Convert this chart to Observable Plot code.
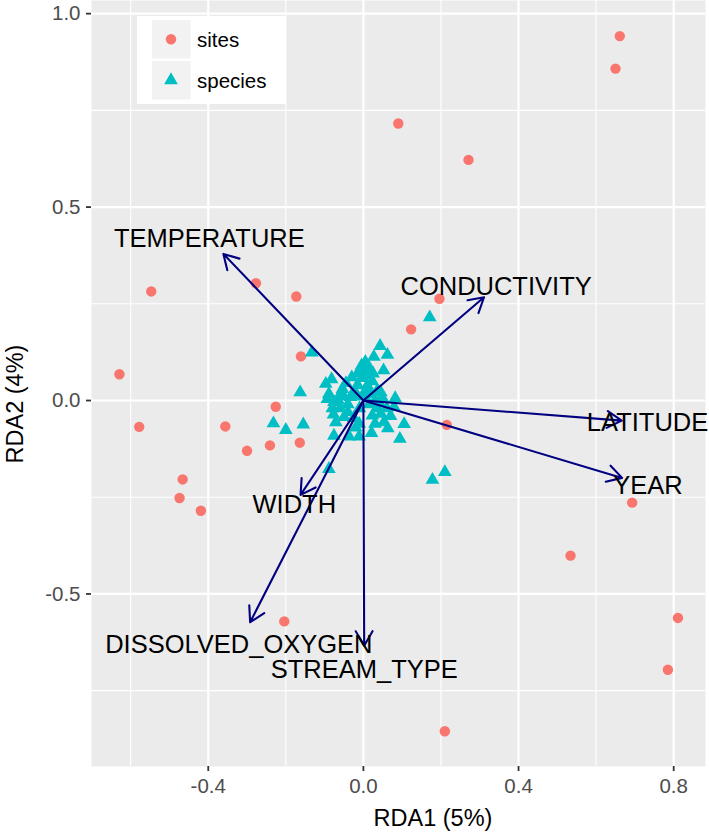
<!DOCTYPE html>
<html>
<head>
<meta charset="utf-8">
<script src="https://cdn.jsdelivr.net/npm/d3@7"></script>
<script src="https://cdn.jsdelivr.net/npm/@observablehq/plot@0.6"></script>
<style>
  html, body { margin: 0; padding: 0; background: white; }
  #chart { position: relative; width: 709px; height: 833px; }
</style>
</head>
<body>
<div id="chart"></div>
<script>
// ---- Data ----
const siteX = [0.661, 0.650, 0.090, 0.271, 0.196, 0.123, -0.547, -0.277, -0.173, -0.161, -0.629, -0.226, -0.578, -0.356, -0.300, -0.241, -0.164, -0.466, -0.474, -0.419, -0.204, 0.215, 0.693, 0.534, 0.811, 0.785, 0.210];
const siteY = [0.942, 0.858, 0.716, 0.622, 0.263, 0.184, 0.282, 0.303, 0.269, 0.114, 0.068, -0.016, -0.068, -0.067, -0.130, -0.116, -0.109, -0.204, -0.252, -0.285, -0.571, -0.063, -0.264, -0.401, -0.562, -0.696, -0.855];

const speciesX = [0.171, -0.133, 0.043, 0.027, 0.062, 0.052, -0.002, 0.023, -0.082, -0.097, -0.163, -0.089, -0.054, -0.028, 0.036, 0.010, 0.082, -0.093, -0.076, -0.059, -0.033, 0.019, 0.045, -0.232, -0.200, -0.155, -0.077, -0.071, -0.050, -0.076, -0.037, -0.011, -0.011, 0.021, 0.023, 0.045, 0.063, 0.053, 0.105, 0.094, -0.089, 0.178, 0.210, 0.079, 0.000, 0.010, -0.015, -0.020, 0.000, 0.030, -0.040, -0.010, 0.015, 0.040, -0.060, 0.030, -0.025, 0.060, -0.005, 0.015, -0.045, -0.030, -0.065, 0.005, 0.025, 0.050, -0.015, 0.005, -0.040, 0.035, -0.080, -0.050, 0.070, -0.020];
const speciesY = [0.215, 0.124, 0.141, 0.113, 0.118, 0.078, 0.058, 0.050, 0.055, 0.043, 0.021, 0.017, 0.030, 0.013, 0.026, 0.039, 0.006, 0.004, -0.004, 0.017, 0.009, 0.017, 0.021, -0.059, -0.076, -0.062, -0.036, -0.056, -0.043, -0.091, -0.093, -0.093, -0.060, -0.084, -0.039, -0.034, -0.072, -0.056, -0.061, -0.099, -0.177, -0.205, -0.185, -0.017, 0.075, 0.065, 0.040, 0.020, 0.010, 0.000, -0.010, -0.020, -0.010, -0.005, -0.020, -0.060, -0.045, -0.020, 0.090, 0.085, 0.045, 0.060, 0.000, 0.100, 0.070, 0.005, 0.070, 0.025, -0.030, -0.020, -0.020, 0.010, -0.040, -0.070];

const varNames = ["TEMPERATURE", "CONDUCTIVITY", "LATITUDE", "YEAR", "STREAM_TYPE", "DISSOLVED_OXYGEN", "WIDTH"];
const varX = [-0.361, 0.311, 0.666, 0.667, 0.002, -0.292, -0.162];
const varY = [0.379, 0.267, -0.052, -0.200, -0.634, -0.573, -0.244];

const xTicks = [-0.4, 0.0, 0.4, 0.8];
const yTicks = [-0.5, 0.0, 0.5, 1.0];
const xMinor = [-0.6, -0.2, 0.2, 0.6];
const yMinor = [-0.75, -0.25, 0.25, 0.75];
const legendLabels = ["sites", "species"];
const xTitle = "RDA1 (5%)";
const yTitle = "RDA2 (4%)";

// ---- tables built from arrays ----
const sites = siteX.map((x, i) => ({x, y: siteY[i]}));
const species = speciesX.map((x, i) => ({x, y: speciesY[i]}));
const vars = varNames.map((name, i) => ({name, x: varX[i], y: varY[i]}));

const FONT = "Liberation Sans, Arial, Helvetica, sans-serif";
const SITE_COL = "#F8766D", SPEC_COL = "#00BFC4";
const SITE_R = 5.2, SPEC_R = 5.1;

const plot = Plot.plot({
  width: 709,
  height: 833,
  marginLeft: 91,
  marginRight: 4,
  marginTop: 0,
  marginBottom: 67,
  style: {fontFamily: FONT, background: "white", overflow: "visible"},
  x: {domain: [-0.701, 0.882], label: null},
  y: {domain: [-0.946, 1.034], label: null},
  marks: [
    Plot.frame({fill: "#EBEBEB", stroke: "none"}),
    Plot.gridX(xMinor, {stroke: "white", strokeOpacity: 1, strokeWidth: 1.1}),
    Plot.gridY(yMinor, {stroke: "white", strokeOpacity: 1, strokeWidth: 1.1}),
    Plot.gridX(xTicks, {stroke: "white", strokeOpacity: 1, strokeWidth: 2.2}),
    Plot.gridY(yTicks, {stroke: "white", strokeOpacity: 1, strokeWidth: 2.2}),
    Plot.axisX(xTicks, {tickFormat: d => d.toFixed(1), fontSize: 20.5, tickSize: 5, tickPadding: 7, stroke: "#333333", strokeWidth: 1.8, fill: "#4D4D4D", label: null}),
    Plot.axisY(yTicks, {tickFormat: d => d.toFixed(1), fontSize: 20.5, tickSize: 5, tickPadding: 6, stroke: "#333333", strokeWidth: 1.8, fill: "#4D4D4D", label: null}),
    Plot.dot(sites, {x: "x", y: "y", r: SITE_R, fill: SITE_COL, stroke: "none"}),
    Plot.dot(species, {x: "x", y: "y", symbol: "triangle", r: SPEC_R, fill: SPEC_COL, stroke: "none"}),
    Plot.arrow(vars, {x1: d => 0, y1: d => 0, x2: "x", y2: "y", stroke: "#000080", strokeWidth: 2.1, headLength: 12, headAngle: 60}),
    Plot.text(vars, {x: d => d.x * 1.1, y: d => d.y * 1.1, text: "name", fontSize: 25.5, fill: "black", fontFamily: FONT})
  ]
});

document.getElementById("chart").appendChild(plot);

// ---- axis titles and legend (real SVG text) ----
const svg = d3.select(plot);
svg.append("text")
  .attr("x", 433).attr("y", 826)
  .attr("text-anchor", "middle")
  .attr("font-size", 23.5).attr("font-family", FONT).attr("fill", "black")
  .text(xTitle);
svg.append("text")
  .attr("transform", "translate(22.5,404) rotate(-90)")
  .attr("text-anchor", "middle")
  .attr("font-size", 23.5).attr("font-family", FONT).attr("fill", "black")
  .text(yTitle);

const lg = svg.append("g");
lg.append("rect").attr("x", 137).attr("y", 16).attr("width", 149).attr("height", 88).attr("fill", "white");
const keyCols = [SITE_COL, SPEC_COL];
const keySyms = [d3.symbolCircle, d3.symbolTriangle];
const keySizes = [Math.PI * SITE_R * SITE_R, Math.PI * SPEC_R * SPEC_R];
legendLabels.forEach((lab, i) => {
  const top = 20 + i * 41;
  lg.append("rect").attr("x", 152).attr("y", top).attr("width", 38.5).attr("height", 38.5).attr("fill", "#F2F2F2");
  lg.append("path")
    .attr("d", d3.symbol(keySyms[i], keySizes[i])())
    .attr("transform", `translate(171,${top + 19.3})`)
    .attr("fill", keyCols[i]);
  lg.append("text")
    .attr("x", 197).attr("y", top + 26.5)
    .attr("text-anchor", "start")
    .attr("font-size", 20.5).attr("font-family", FONT).attr("fill", "black")
    .text(lab);
});
</script>
</body>
</html>
